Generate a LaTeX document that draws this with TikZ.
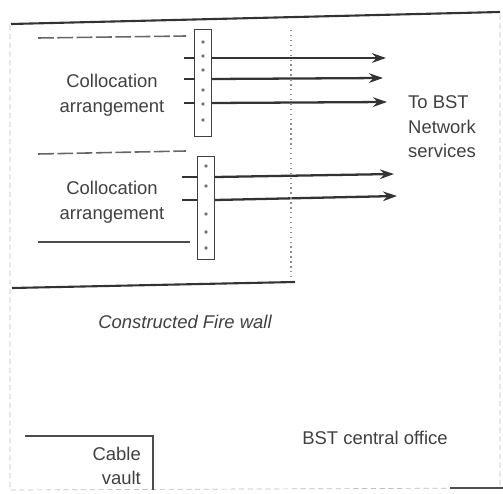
\documentclass[tikz,border=0pt]{standalone}
\usepackage{fontspec}
\setmainfont{Liberation Sans}
\usetikzlibrary{arrows.meta,positioning}

\begin{document}
\begin{tikzpicture}[
  x=0.02cm, y=-0.02cm,
  >={Stealth[length=8pt,width=5.5pt]},
  every node/.style={font=\fontsize{10.5}{14}\selectfont,text=black!75},
  wall/.style={draw=black!80,line width=1.2pt},
  faint/.style={draw=black!25,densely dashed,line width=0.4pt},
  rule/.style={draw=black!70,line width=0.9pt},
  dashrule/.style={draw=black!60,line width=0.9pt,dash pattern=on 9pt off 2pt},
  frame/.style={draw=black!75,line width=0.7pt,minimum width=0.34cm,inner sep=0pt},
  stub/.style={draw=black!80,line width=1.1pt},
  sig/.style={draw=black!80,line width=1.3pt,->},
  pin/.style={circle,fill=black!55,inner sep=0pt,minimum size=2pt}
]
\useasboundingbox (0,0) rectangle (503,493);

% office outline, only faint in the scan
\draw[faint] (10,25) -- (10,490) -- (500,488) -- (500,12);
\draw[rule] (450,488) -- (503,488);
\draw[wall] (11,24) -- (500,12);

% the two frames
\node[frame,minimum height=2.14cm] (frameA) at (203,83) {};
\node[frame,minimum height=2.06cm] (frameB) at (206,208) {};
\foreach \y in {42,56,70,90,104,120}
  \node[pin] at (203,\y) {};
\foreach \y in {166,186,214,232,248}
  \node[pin] at (206,\y) {};

% upper arrangement
\draw[dashrule] (38,38) -- (186,36);
\node[align=center] (collA) at (112,95) {Collocation\\arrangement};
\coordinate (sA1) at (184,58);
\coordinate (sA2) at (184,79);
\coordinate (sA3) at (184,103);
\coordinate (eA1) at (386,58);
\coordinate (eA2) at (383,78);
\coordinate (eA3) at (387,102);
\foreach \i in {1,2,3}{
  \draw[stub] (sA\i) -- (sA\i -| frameA.west);
  \draw[sig] (sA\i -| frameA.east) -- (eA\i);
}

% lower arrangement
\draw[dashrule] (38,154) -- (186,151);
\node[align=center] (collB) at (112,202) {Collocation\\arrangement};
\coordinate (sB1) at (182,177);
\coordinate (sB2) at (182,200);
\coordinate (eB1) at (394,174);
\coordinate (eB2) at (397,196);
\foreach \i in {1,2}{
  \draw[stub] (sB\i) -- (sB\i -| frameB.west);
  \draw[sig] (sB\i -| frameB.east) -- (eB\i);
}
\draw[rule] (38,242) -- (190,242);

% fire wall
\draw[draw=black!45,dotted,line width=0.8pt] (291,30) -- (291,282);
\draw[wall] (12,288) -- (295,282);
\node[font=\fontsize{10.5}{14}\selectfont\itshape] (fire) at (185,322) {Constructed Fire wall};

\node[align=left,anchor=west] (bst) at (402,127) {To BST\\Network\\services};
\node (office) at (375,438) {BST central office};

% cable vault
\draw[rule] (25,436) -- (153,436) -- (153,490);
\node[align=right,anchor=east] (vault) at (147,466) {Cable\\vault};
\end{tikzpicture}
\end{document}
